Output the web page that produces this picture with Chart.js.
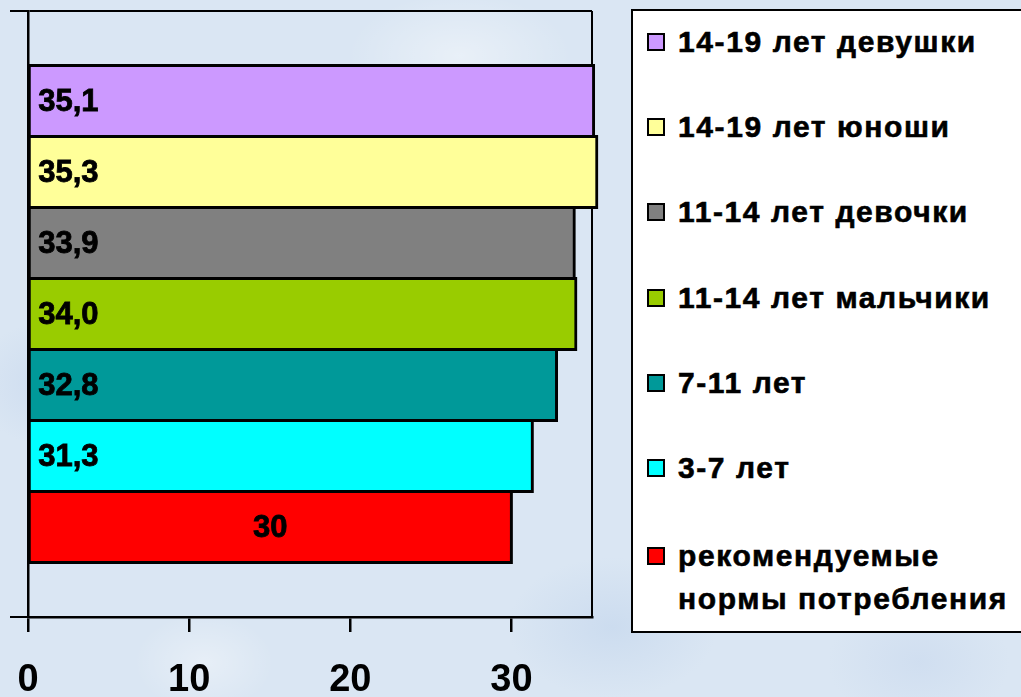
<!DOCTYPE html>
<html lang="ru">
<head>
<meta charset="utf-8">
<title>Потребление</title>
<script src="https://cdn.jsdelivr.net/npm/chart.js@4.4.1/dist/chart.umd.min.js"></script>
<style>
  html, body {
    margin: 0;
    padding: 0;
    width: 1021px;
    height: 697px;
    overflow: hidden;
  }
  body {
    position: relative;
    font-family: "Liberation Sans", Arial, sans-serif;
    background-color: #dae6f3;
    background-image:
      radial-gradient(ellipse 120px 80px at 12% 18%, rgba(255,255,255,0.45), rgba(255,255,255,0) 70%),
      radial-gradient(ellipse 160px 90px at 45% 8%, rgba(255,255,255,0.4), rgba(255,255,255,0) 70%),
      radial-gradient(ellipse 140px 110px at 30% 70%, rgba(255,255,255,0.35), rgba(255,255,255,0) 70%),
      radial-gradient(ellipse 150px 100px at 60% 90%, rgba(190,210,235,0.5), rgba(190,210,235,0) 70%),
      radial-gradient(ellipse 110px 90px at 5% 55%, rgba(195,212,236,0.55), rgba(195,212,236,0) 70%),
      radial-gradient(ellipse 130px 90px at 90% 95%, rgba(200,216,238,0.55), rgba(200,216,238,0) 70%),
      radial-gradient(ellipse 100px 70px at 20% 95%, rgba(255,255,255,0.35), rgba(255,255,255,0) 70%);
  }
  #wrap {
    position: absolute;
    left: 0;
    top: 0;
    width: 1021px;
    height: 697px;
  }
  #legend {
    position: absolute;
    left: 631px;
    top: 9px;
    width: 420px;
    height: 620px;
    background: #ffffff;
    border: 2.5px solid #000000;
  }
  .item {
    position: absolute;
    left: 14px;
    display: flex;
    align-items: flex-start;
    font-weight: bold;
    font-size: 30px;
    line-height: 43px;
    letter-spacing: 1.6px;
    color: #000000;
    white-space: nowrap;
    -webkit-text-stroke: 0.6px #000000;
  }
  .swatch {
    box-sizing: border-box;
    width: 18px;
    height: 18px;
    border: 2px solid #000000;
    margin-top: 13px;
    margin-right: 13px;
    flex: none;
  }
</style>
</head>
<body>
<div id="wrap"><canvas id="chart" width="1021" height="697"></canvas></div>
<div id="legend"></div>
<script>
// Single category, one horizontal bar per group
const categories = [''];
const seriesNames = [
  '14-19 лет девушки',
  '14-19 лет юноши',
  '11-14 лет девочки',
  '11-14 лет мальчики',
  '7-11 лет',
  '3-7 лет',
  'рекомендуемые нормы потребления'
];
const legendLines = [
  ['14-19 лет девушки'],
  ['14-19 лет юноши'],
  ['11-14 лет девочки'],
  ['11-14 лет мальчики'],
  ['7-11 лет'],
  ['3-7 лет'],
  ['рекомендуемые', 'нормы потребления']
];
const seriesValues = [35.1, 35.3, 33.9, 34.0, 32.8, 31.3, 30];
const valueDecimals = [1, 1, 1, 1, 1, 1, 0];
const seriesColors = ['#CC99FF', '#FFFF99', '#808080', '#99CC00', '#009999', '#00FFFF', '#FF0000'];
const labelAlign = ['start', 'start', 'start', 'start', 'start', 'start', 'center'];
const xTicks = [0, 10, 20, 30];
const xMax = 35;

const FONT = '"Liberation Sans", Arial, sans-serif';
const formatValue = (v, d) => v.toFixed(d).replace('.', ',');

// Frame line on the right side of the plot, drawn under the bars
const plotFrame = {
  id: 'plotFrame',
  beforeDatasetsDraw(chart) {
    const { ctx, chartArea } = chart;
    ctx.save();
    ctx.strokeStyle = '#000000';
    ctx.lineWidth = 2;
    ctx.beginPath();
    ctx.moveTo(chartArea.right, chartArea.top);
    ctx.lineTo(chartArea.right, chartArea.bottom);
    ctx.stroke();
    ctx.restore();
  }
};

// Value captions inside each bar
const barValues = {
  id: 'barValues',
  afterDatasetsDraw(chart) {
    const { ctx } = chart;
    ctx.save();
    ctx.font = 'bold 31px ' + FONT;
    ctx.fillStyle = '#000000';
    ctx.strokeStyle = '#000000';
    ctx.lineWidth = 0.8;
    ctx.textBaseline = 'middle';
    chart.data.datasets.forEach((ds, i) => {
      const el = chart.getDatasetMeta(i).data[0];
      const p = el.getProps(['x', 'y', 'base'], true);
      const text = formatValue(seriesValues[i], valueDecimals[i]);
      let tx;
      if (labelAlign[i] === 'center') {
        ctx.textAlign = 'center';
        tx = (p.base + p.x) / 2;
      } else {
        ctx.textAlign = 'left';
        tx = p.base + 9;
      }
      ctx.fillText(text, tx, p.y + 1);
      ctx.strokeText(text, tx, p.y + 1);
    });
    ctx.restore();
  }
};

const datasets = seriesNames.map((name, i) => ({
  label: name,
  data: [seriesValues[i]],
  backgroundColor: seriesColors[i],
  borderColor: '#000000',
  borderWidth: 3,
  borderSkipped: false,
  inflateAmount: 1.5,
  clip: false,
  categoryPercentage: 0.82,
  barPercentage: 1.0
}));

new Chart(document.getElementById('chart'), {
  type: 'bar',
  data: { labels: categories, datasets },
  options: {
    indexAxis: 'y',
    responsive: false,
    animation: false,
    events: [],
    layout: { padding: { top: 11, left: 0, right: 429, bottom: 0 } },
    plugins: {
      legend: { display: false },
      tooltip: { enabled: false }
    },
    scales: {
      x: {
        type: 'linear',
        min: 0,
        max: xMax,
        afterBuildTicks(scale) {
          scale.ticks = xTicks.map(v => ({ value: v }));
        },
        afterFit(scale) {
          scale.height = 80;
          scale.paddingLeft = 0;
          scale.paddingRight = 0;
        },
        border: { display: true, color: '#000000', width: 2.5 },
        grid: {
          display: true,
          drawOnChartArea: false,
          drawTicks: true,
          tickLength: 15,
          color: '#000000',
          lineWidth: 2.5
        },
        ticks: {
          padding: 26,
          color: '#000000',
          font: { family: FONT, size: 38, weight: 'bold' },
          maxRotation: 0,
          autoSkip: false
        }
      },
      y: {
        type: 'category',
        afterFit(scale) { scale.width = 28; },
        border: { display: true, color: '#000000', width: 2.5 },
        grid: {
          display: true,
          offset: true,
          drawOnChartArea: true,
          drawTicks: true,
          tickLength: 18,
          color: '#000000',
          lineWidth: 2
        },
        ticks: { display: false }
      }
    }
  },
  plugins: [plotFrame, barValues]
});

// Legend box
const legendEl = document.getElementById('legend');
const itemCenters = [30, 115, 200, 286, 371, 456, 544];
legendLines.forEach((lines, i) => {
  const item = document.createElement('div');
  item.className = 'item';
  item.style.top = (itemCenters[i] - 21.5) + 'px';
  const sw = document.createElement('span');
  sw.className = 'swatch';
  sw.style.background = seriesColors[i];
  const txt = document.createElement('span');
  txt.innerHTML = lines.map(l => l.replace(/&/g, '&amp;').replace(/</g, '&lt;')).join('<br>');
  item.appendChild(sw);
  item.appendChild(txt);
  legendEl.appendChild(item);
});
</script>
</body>
</html>
